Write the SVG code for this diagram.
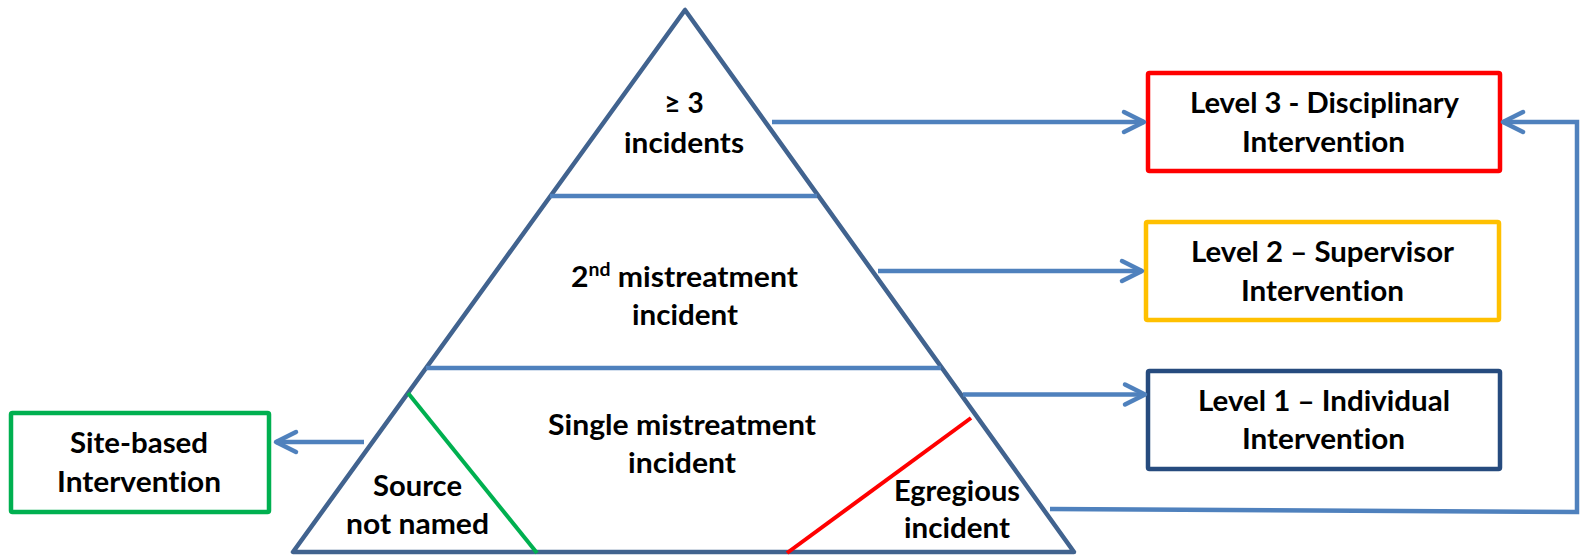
<svg xmlns="http://www.w3.org/2000/svg" width="1580" height="555" viewBox="0 0 1580 555">
<style>
.t{font-family:Lato,"Liberation Sans",sans-serif;font-weight:bold;font-size:28px;fill:#000;font-variant-ligatures:none;font-feature-settings:"liga" 0,"clig" 0}
.box{fill:#fff;stroke-width:4.5}
.conn{fill:none;stroke:#4F81BD;stroke-width:4.5}
.tri{fill:#fff;stroke:#41638F;stroke-width:4.5;stroke-linejoin:round}
</style>
<defs>
<marker id="arr" markerUnits="userSpaceOnUse" markerWidth="32" markerHeight="32" viewBox="-26 -16 32 32" refX="0" refY="0" orient="auto" overflow="visible">
<path d="M-20,-10 L0,0 L-20,10" fill="none" stroke="#4F81BD" stroke-width="4.5" stroke-linecap="round" stroke-linejoin="round"/>
</marker>
</defs>
<rect width="1580" height="555" fill="#fff"/>
<g id="pyramid">
<polygon class="tri" points="685,10 293,552 1074,552"/>
<line x1="550" y1="196" x2="817" y2="196" stroke="#4F81BD" stroke-width="4.5"/>
<line x1="426" y1="368" x2="941" y2="368" stroke="#4F81BD" stroke-width="4.5"/>
<line x1="408" y1="393" x2="537" y2="553" stroke="#00B050" stroke-width="4"/>
<line x1="971" y1="418" x2="787" y2="553" stroke="#FF0000" stroke-width="4"/>
</g>
<g id="tier-top">
<text class="t" x="684" y="113" text-anchor="middle">≥ 3</text>
<text class="t" x="624" y="153" textLength="120" lengthAdjust="spacingAndGlyphs">incidents</text>
</g>
<g id="tier-middle">
<text class="t" x="571" y="287" textLength="227" lengthAdjust="spacingAndGlyphs">2<tspan font-size="18" dy="-11">nd</tspan><tspan dy="11"> mistreatment</tspan></text>
<text class="t" x="632" y="325" textLength="106" lengthAdjust="spacingAndGlyphs">incident</text>
</g>
<g id="tier-bottom">
<text class="t" x="548" y="435" textLength="268" lengthAdjust="spacingAndGlyphs">Single mistreatment</text>
<text class="t" x="628" y="473" textLength="108" lengthAdjust="spacingAndGlyphs">incident</text>
</g>
<g id="source-not-named">
<text class="t" x="373" y="496" textLength="89" lengthAdjust="spacingAndGlyphs">Source</text>
<text class="t" x="346" y="534" textLength="143" lengthAdjust="spacingAndGlyphs">not named</text>
</g>
<g id="egregious">
<text class="t" x="894" y="501" textLength="126" lengthAdjust="spacingAndGlyphs">Egregious</text>
<text class="t" x="904" y="538" textLength="106" lengthAdjust="spacingAndGlyphs">incident</text>
</g>
<g id="level3">
<rect class="box" x="1148" y="73" width="352" height="98" rx="1.5" stroke="#FF0000"/>
<text class="t" x="1190" y="113" textLength="269" lengthAdjust="spacingAndGlyphs">Level 3 - Disciplinary</text>
<text class="t" x="1242" y="152" textLength="163" lengthAdjust="spacingAndGlyphs">Intervention</text>
</g>
<g id="level2">
<rect class="box" x="1146" y="222" width="353" height="98" rx="1.5" stroke="#FFC000"/>
<text class="t" x="1191" y="262" textLength="263" lengthAdjust="spacingAndGlyphs">Level 2 – Supervisor</text>
<text class="t" x="1241" y="301" textLength="163" lengthAdjust="spacingAndGlyphs">Intervention</text>
</g>
<g id="level1">
<rect class="box" x="1148" y="371" width="352" height="98" rx="1.5" stroke="#264B7E"/>
<text class="t" x="1198" y="411" textLength="252" lengthAdjust="spacingAndGlyphs">Level 1 – Individual</text>
<text class="t" x="1242" y="449" textLength="163" lengthAdjust="spacingAndGlyphs">Intervention</text>
</g>
<g id="site-based">
<rect class="box" x="11" y="413" width="258" height="99" rx="1.5" stroke="#00B050"/>
<text class="t" x="70" y="453" textLength="138" lengthAdjust="spacingAndGlyphs">Site-based</text>
<text class="t" x="57" y="492" textLength="164" lengthAdjust="spacingAndGlyphs">Intervention</text>
</g>
<g id="connectors">
<path class="conn" d="M772,122 H1144" marker-end="url(#arr)"/>
<path class="conn" d="M878,271 H1142" marker-end="url(#arr)"/>
<path class="conn" d="M963,394.5 H1145" marker-end="url(#arr)"/>
<path class="conn" d="M364,442 H276" marker-end="url(#arr)"/>
<path class="conn" d="M1050,509 L1577,512 V122 H1503" marker-end="url(#arr)"/>
</g>
</svg>
